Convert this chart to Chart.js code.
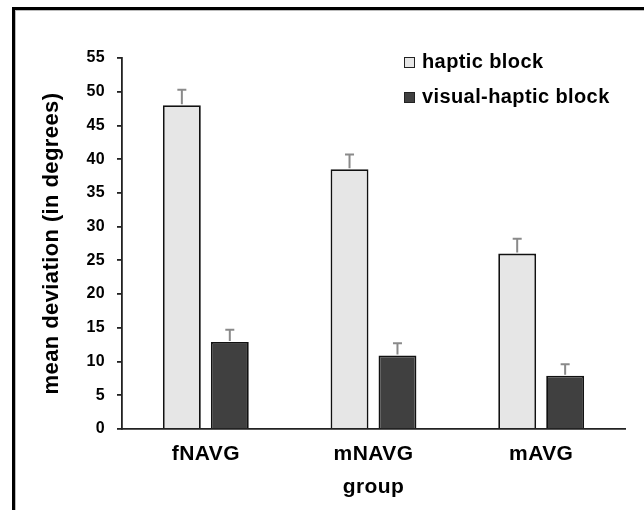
<!DOCTYPE html>
<html>
<head>
    <title>mean deviation by group</title>
    <script src="https://cdn.jsdelivr.net/npm/chart.js"></script>
    <style>
        body { margin: 0; background: #fff; }
        #frame { position: absolute; left: 12px; top: 7px; width: 700px; height: 600px;
                 border-left: 3px solid #000; border-top: 3px solid #000;
                 box-shadow: inset 1px 1px 0 #bbb; }
        #wrap { position: absolute; left: 0; top: 0; width: 644px; height: 510px; }
    </style>
</head>
<body>
    <div id="frame"></div>
    <div id="wrap"><canvas id="myChart" width="644" height="510"></canvas></div>

    <script>
        // values
        var groups = ['fNAVG', 'mNAVG', 'mAVG'];
        var hapticMeans = [48.0, 38.5, 26.0];
        var hapticErrors = [2.3, 2.2, 2.2];
        var visualHapticMeans = [12.9, 10.9, 7.9];
        var visualHapticErrors = [1.8, 1.8, 1.7];
        var yTicks = [0, 5, 10, 15, 20, 25, 30, 35, 40, 45, 50, 55];

        var fontFamily = 'Arial, "Liberation Sans", sans-serif';

        // the original text runs a little wider than Arial
        var spacing = {
            id: 'spacing',
            beforeLayout: function (chart) { chart.ctx.letterSpacing = '0.4px'; },
            beforeDraw: function (chart) { chart.ctx.letterSpacing = '0.4px'; }
        };

        // upper error bars (gray, cap only on top)
        var errorBars = {
            id: 'errorBars',
            afterDatasetsDraw: function (chart) {
                var ctx = chart.ctx;
                var y = chart.scales.y;
                ctx.save();
                ctx.strokeStyle = '#8a8a8a';
                ctx.lineWidth = 2;
                chart.data.datasets.forEach(function (ds, i) {
                    var meta = chart.getDatasetMeta(i);
                    meta.data.forEach(function (bar, j) {
                        var top = y.getPixelForValue(ds.data[j] + ds.errors[j]);
                        ctx.beginPath();
                        ctx.moveTo(bar.x, bar.y - 1);
                        ctx.lineTo(bar.x, top);
                        ctx.moveTo(bar.x - 4.5, top);
                        ctx.lineTo(bar.x + 4.5, top);
                        ctx.stroke();
                    });
                });
                ctx.restore();
            }
        };

        // legend inside the plot, top right
        var insideLegend = {
            id: 'insideLegend',
            afterDraw: function (chart) {
                var ctx = chart.ctx;
                var area = chart.chartArea;
                var x = area.right - 221;
                var y = area.top - 1;
                ctx.save();
                ctx.font = 'bold 20px ' + fontFamily;
                ctx.textBaseline = 'alphabetic';
                chart.data.datasets.forEach(function (ds, i) {
                    var by = y + i * 35;
                    ctx.fillStyle = ds.backgroundColor;
                    ctx.fillRect(x, by, 11, 11);
                    ctx.strokeStyle = '#222';
                    ctx.lineWidth = 1;
                    ctx.strokeRect(x + 0.5, by + 0.5, 10, 10);
                    ctx.fillStyle = '#000';
                    ctx.fillText(ds.label, x + 18, by + 11);
                });
                ctx.restore();
            }
        };

        var ctx = document.getElementById('myChart').getContext('2d');
        var myChart = new Chart(ctx, {
            type: 'bar',
            data: {
                labels: groups,
                datasets: [
                    { label: 'haptic block', data: hapticMeans, errors: hapticErrors,
                      backgroundColor: '#e6e6e6', borderColor: '#111', borderWidth: 1.8 },
                    { label: 'visual-haptic block', data: visualHapticMeans, errors: visualHapticErrors,
                      backgroundColor: '#404040', borderColor: '#111', borderWidth: 1.8 }
                ]
            },
            options: {
                responsive: false,
                animation: false,
                categoryPercentage: 0.572,
                barPercentage: 0.79,
                layout: { padding: { left: 35, right: 19, top: 58, bottom: 6 } },
                plugins: {
                    legend: { display: false },
                    tooltip: { enabled: false }
                },
                scales: {
                    x: {
                        grid: { display: false, drawTicks: false },
                        border: { display: true, color: '#222', width: 1.8 },
                        ticks: {
                            color: '#000', padding: 13,
                            font: { family: fontFamily, size: 21, weight: 'bold' }
                        },
                        title: {
                            display: true, text: 'group', color: '#000',
                            padding: { top: 0, bottom: 4 },
                            font: { family: fontFamily, size: 21, weight: 'bold' }
                        },
                        afterFit: function (scale) { scale.height = 75; }
                    },
                    y: {
                        min: 0,
                        max: 55,
                        afterBuildTicks: function (scale) {
                            scale.ticks = yTicks.map(function (v) { return { value: v }; });
                        },
                        grid: { drawOnChartArea: false, drawTicks: true, tickLength: 5, color: '#222', lineWidth: 1.8 },
                        border: { display: true, color: '#222', width: 1.8 },
                        ticks: {
                            color: '#000', padding: 12,
                            font: { family: fontFamily, size: 16, weight: 'bold' }
                        },
                        title: {
                            display: true, text: 'mean deviation (in degrees)', color: '#000',
                            padding: { top: 4, bottom: 0 },
                            font: { family: fontFamily, size: 22, weight: 'bold' }
                        },
                        afterFit: function (scale) { scale.width = 87; }
                    }
                }
            },
            plugins: [spacing, errorBars, insideLegend]
        });
    </script>
</body>
</html>
